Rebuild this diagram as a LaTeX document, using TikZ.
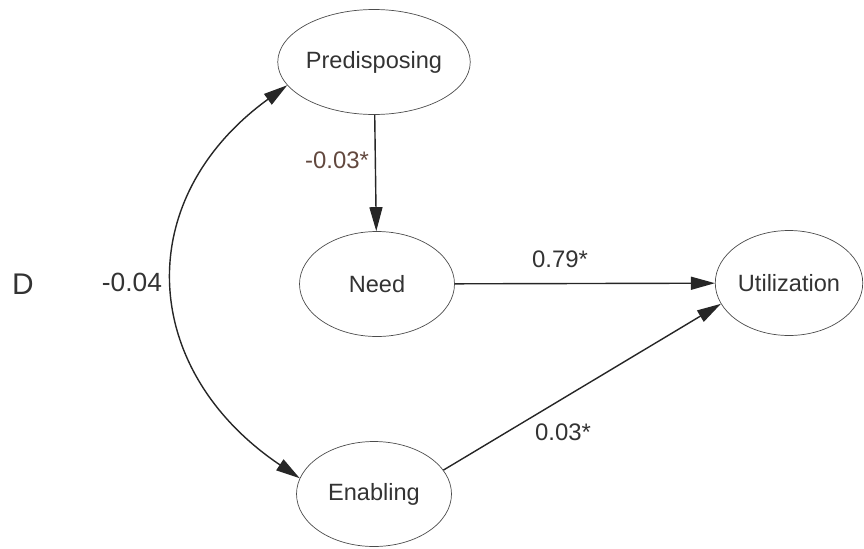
\documentclass[tikz,border=0pt]{standalone}
\usepackage{fontspec}
\setmainfont{Liberation Sans}
\usetikzlibrary{shapes.geometric,arrows.meta}
\definecolor{coefbrown}{RGB}{98,72,62}

\begin{document}
\begin{tikzpicture}[x=0.02cm, y=-0.02cm,
    >={Triangle[length=0.48cm, width=0.26cm]},
    latent/.style={draw=black!70, ellipse, minimum width=3.1cm, minimum height=2.1cm, inner sep=0pt, text=black!80, font=\fontsize{13.4}{16}\selectfont},
    effect/.style={->, draw=black!85, line width=0.8pt},
    coef/.style={text=black!80, inner sep=0pt, font=\fontsize{13.6}{16}\selectfont}]
    \useasboundingbox (0,0) rectangle (864,548);

    % Nodos principales
    \node (pred) [latent] at (374,62) {Predisposing};
    \node (need) [latent] at (377,284) {Need};
    \node (util) [latent, minimum width=2.95cm] at (789,283) {Utilization};
    \node (ena) [latent] at (374,494) {Enabling};

    % Flechas de conexión
    \draw[effect] (pred) -- (need);
    \draw[effect] (need) -- (util);
    \draw[effect] (ena.19) -- (util.197);
    \draw[effect, <->] (pred.195) to[out=216, in=146, looseness=1.26] (ena.168);

    % Coeficientes
    \node (d) [coef, font=\fontsize{17}{20}\selectfont] at (23,284) {D};
    \node (c04) [coef, font=\fontsize{15}{18}\selectfont] at (132,282) {-0.04};
    \node (c03a) [coef, text=coefbrown] at (337,160) {-0.03*};
    \node (c79) [coef] at (560,259) {0.79*};
    \node (c03b) [coef] at (563,432) {0.03*};
\end{tikzpicture}
\end{document}
